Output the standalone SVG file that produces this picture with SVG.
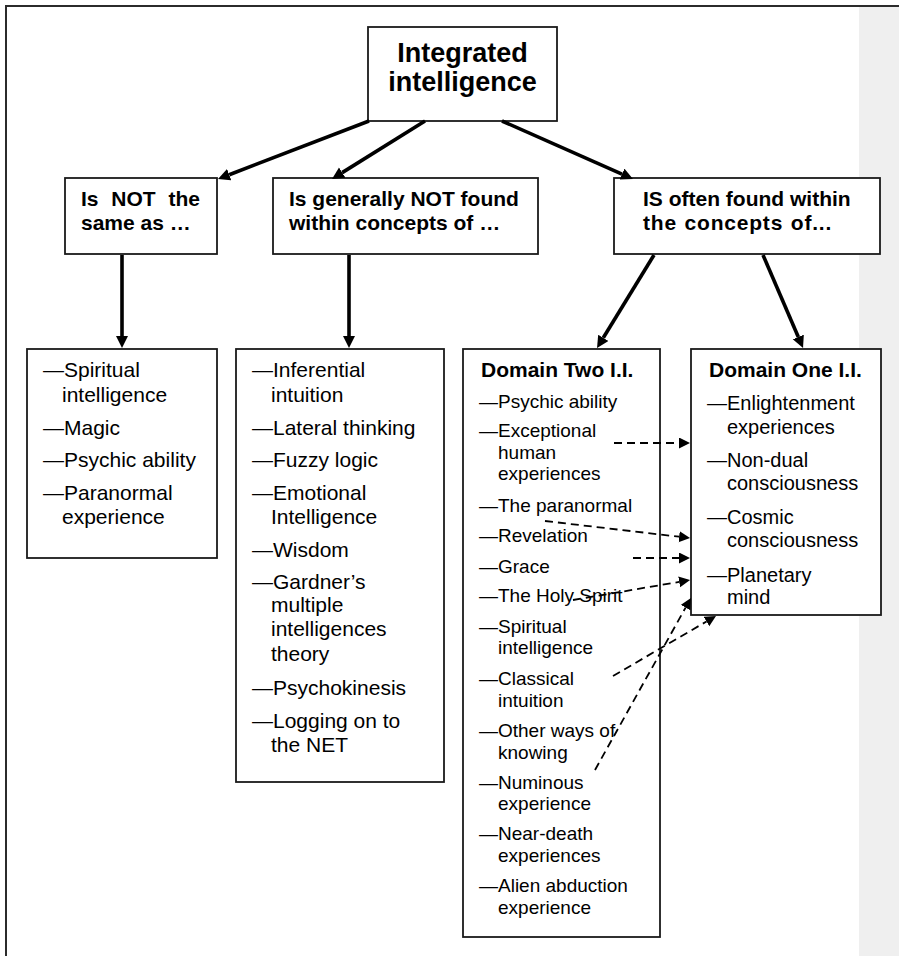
<svg xmlns="http://www.w3.org/2000/svg" width="899" height="956" viewBox="0 0 899 956">
  <style>
    .box { fill: #ffffff; stroke: #1a1a1a; stroke-width: 1.8; }
    .frame { fill: none; stroke: #2b2b2b; stroke-width: 2; }
    .title { font-family: "Liberation Sans", Arial, sans-serif; font-weight: bold; font-size: 27px; fill: #000; }
    .head { font-family: "Liberation Sans", Arial, sans-serif; font-weight: bold; font-size: 21px; fill: #000; }
    .item { font-family: "Liberation Sans", Arial, sans-serif; font-size: 21px; fill: #000; }
    .item19 { font-family: "Liberation Sans", Arial, sans-serif; font-size: 19px; fill: #000; }
    .item20 { font-family: "Liberation Sans", Arial, sans-serif; font-size: 20px; fill: #000; }
    .solid { fill: none; stroke: #000; stroke-width: 3.6; marker-end: url(#head); }
    .dash { fill: none; stroke: #000; stroke-width: 1.8; stroke-dasharray: 8 5; marker-end: url(#headSmall); }
  </style>
  <defs>
    <marker id="head" markerUnits="userSpaceOnUse" markerWidth="13" markerHeight="13" refX="0" refY="6" orient="auto">
      <path d="M0,0 L12,6 L0,12 z" fill="#000"/>
    </marker>
    <marker id="headSmall" markerUnits="userSpaceOnUse" markerWidth="12" markerHeight="12" refX="0" refY="5.5" orient="auto">
      <path d="M0,0 L11,5.5 L0,11 z" fill="#000"/>
    </marker>
  </defs>

  <!-- page background, margin band and frame -->
  <rect x="0" y="0" width="899" height="956" fill="#ffffff"/>
  <rect x="859" y="7" width="40" height="949" fill="#efefef"/>
  <path class="frame" d="M6,956 L6,6 L899,6"/>

  <g id="root">
    <rect class="box" x="368" y="27" width="189" height="94"/>
    <text class="title" x="462.5" y="61.5" text-anchor="middle">Integrated</text>
    <text class="title" x="462.5" y="91" text-anchor="middle">intelligence</text>
  </g>

  <g id="not-same">
    <rect class="box" x="65" y="178" width="152" height="76"/>
    <text class="head" x="81" y="206" word-spacing="7">Is NOT the</text>
    <text class="head" x="81" y="230">same as …</text>
  </g>

  <g id="not-found">
    <rect class="box" x="273" y="178" width="265" height="76"/>
    <text class="head" x="289" y="206">Is generally NOT found</text>
    <text class="head" x="289" y="230">within concepts of …</text>
  </g>

  <g id="often-found">
    <rect class="box" x="614" y="178" width="266" height="76"/>
    <text class="head" x="643" y="206">IS often found within</text>
    <text class="head" x="643" y="230" letter-spacing="0.8" word-spacing="1">the concepts of...</text>
  </g>

  <g id="not-same-list">
    <rect class="box" x="27" y="349" width="190" height="209"/>
    <text class="item" x="43" y="377">—Spiritual</text>
    <text class="item" x="62" y="401.5">intelligence</text>
    <text class="item" x="43" y="434.5">—Magic</text>
    <text class="item" x="43" y="466.5">—Psychic ability</text>
    <text class="item" x="43" y="499.5">—Paranormal</text>
    <text class="item" x="62" y="523.5">experience</text>
  </g>

  <g id="not-found-list">
    <rect class="box" x="236" y="349" width="208" height="433"/>
    <text class="item" x="252" y="377">—Inferential</text>
    <text class="item" x="271" y="401.5">intuition</text>
    <text class="item" x="252" y="434.5">—Lateral thinking</text>
    <text class="item" x="252" y="466.5">—Fuzzy logic</text>
    <text class="item" x="252" y="499.5">—Emotional</text>
    <text class="item" x="271" y="523.5">Intelligence</text>
    <text class="item" x="252" y="556.5">—Wisdom</text>
    <text class="item" x="252" y="588.5">—Gardner’s</text>
    <text class="item" x="271" y="612">multiple</text>
    <text class="item" x="271" y="636">intelligences</text>
    <text class="item" x="271" y="660.5">theory</text>
    <text class="item" x="252" y="694.5">—Psychokinesis</text>
    <text class="item" x="252" y="728">—Logging on to</text>
    <text class="item" x="271" y="752">the NET</text>
  </g>

  <g id="domain-two">
    <rect class="box" x="463" y="349" width="197" height="588"/>
    <text class="head" x="481" y="377">Domain Two I.I.</text>
    <text class="item19" x="479" y="408.3">—Psychic ability</text>
    <text class="item19" x="479" y="437">—Exceptional</text>
    <text class="item19" x="498" y="458.5">human</text>
    <text class="item19" x="498" y="480">experiences</text>
    <text class="item19" x="479" y="511.5">—The paranormal</text>
    <text class="item19" x="479" y="541.5">—Revelation</text>
    <text class="item19" x="479" y="572.5">—Grace</text>
    <text class="item19" x="479" y="601.5">—The Holy Spirit</text>
    <text class="item19" x="479" y="632.5">—Spiritual</text>
    <text class="item19" x="498" y="654">intelligence</text>
    <text class="item19" x="479" y="685">—Classical</text>
    <text class="item19" x="498" y="706.5">intuition</text>
    <text class="item19" x="479" y="736.5">—Other ways of</text>
    <text class="item19" x="498" y="759">knowing</text>
    <text class="item19" x="479" y="789">—Numinous</text>
    <text class="item19" x="498" y="810">experience</text>
    <text class="item19" x="479" y="840">—Near-death</text>
    <text class="item19" x="498" y="862">experiences</text>
    <text class="item19" x="479" y="892">—Alien abduction</text>
    <text class="item19" x="498" y="913.5">experience</text>
  </g>

  <g id="domain-one">
    <rect class="box" x="691" y="349" width="190" height="266"/>
    <text class="head" x="709" y="377">Domain One I.I.</text>
    <text class="item20" x="707" y="410">—Enlightenment</text>
    <text class="item20" x="727" y="433.5">experiences</text>
    <text class="item20" x="707" y="466.5">—Non-dual</text>
    <text class="item20" x="727" y="490">consciousness</text>
    <text class="item20" x="707" y="523.5">—Cosmic</text>
    <text class="item20" x="727" y="546.5">consciousness</text>
    <text class="item20" x="707" y="581.5">—Planetary</text>
    <text class="item20" x="727" y="603.5">mind</text>
  </g>

  <!-- drawn last so the dashed links run over the Domain Two list -->
  <g id="connectors">
    <!-- root to the three categories -->
    <line class="solid" x1="369" y1="121" x2="229.2" y2="174.7"/>
    <line class="solid" x1="425" y1="121" x2="342.2" y2="172.6"/>
    <line class="solid" x1="502" y1="121" x2="622.0" y2="174.1"/>
    <!-- categories to lists -->
    <line class="solid" x1="122" y1="255" x2="122" y2="336"/>
    <line class="solid" x1="349" y1="255" x2="349" y2="336"/>
    <line class="solid" x1="654" y1="255" x2="603.3" y2="337.8"/>
    <line class="solid" x1="763" y1="255" x2="798.3" y2="337"/>
    <!-- Domain Two items linked to Domain One -->
    <line class="dash" x1="614" y1="443" x2="679" y2="443"/>
    <line class="dash" x1="545" y1="521" x2="679.1" y2="536.7"/>
    <line class="dash" x1="633" y1="558" x2="679" y2="558"/>
    <line class="dash" x1="573" y1="600" x2="679.2" y2="581.9"/>
    <line class="dash" x1="595" y1="770" x2="685.6" y2="607.6"/>
    <line class="dash" x1="613" y1="676" x2="706.5" y2="621.5"/>
  </g>
</svg>
